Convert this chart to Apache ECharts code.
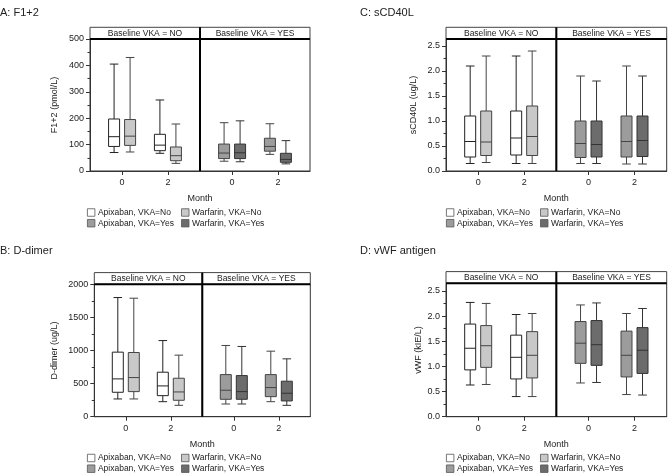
<!DOCTYPE html>
<html><head><meta charset="utf-8">
<script src="https://cdn.jsdelivr.net/npm/echarts@6/dist/echarts.min.js"></script>
<style>html,body{margin:0;padding:0;background:#fff}#c{width:669px;height:473px}</style>
</head><body><div id="c"></div>
<script>
// ---------- DATA ----------
const months = [0, 2];
const monthTicks = [0, 2];
const stripLabels = ['Baseline VKA = NO', 'Baseline VKA = YES'];
const seriesNames = ['Apixaban, VKA=No', 'Warfarin, VKA=No', 'Apixaban, VKA=Yes', 'Warfarin, VKA=Yes'];
// each box: [min, Q1, median, Q3, max], one per month (0, 2)
const f12_apixNo   = [[70, 93, 130, 197, 405], [67, 77, 98, 139, 269]];
const f12_warfNo   = [[72, 97, 132, 195, 430], [29, 39, 58, 91, 178]];
const f12_apixYes  = [[37, 47, 68, 102, 183], [63, 75, 93, 124, 179]];
const f12_warfYes  = [[35, 47, 69, 102, 190], [27, 33, 44, 67, 115]];

const cd40_apixNo  = [[0.15, 0.28, 0.59, 1.1, 2.1], [0.15, 0.32, 0.66, 1.2, 2.3]];
const cd40_warfNo  = [[0.17, 0.31, 0.58, 1.2, 2.3], [0.15, 0.31, 0.69, 1.3, 2.4]];
const cd40_apixYes = [[0.15, 0.27, 0.55, 1.0, 1.9], [0.14, 0.28, 0.59, 1.1, 2.1]];
const cd40_warfYes = [[0.15, 0.28, 0.53, 1.0, 1.8], [0.14, 0.29, 0.61, 1.1, 1.9]];

const dd_apixNo    = [[268, 369, 571, 975, 1800], [227, 318, 465, 672, 1150]];
const dd_warfNo    = [[268, 379, 591, 970, 1790], [172, 248, 374, 581, 930]];
const dd_apixYes   = [[192, 263, 400, 636, 1076], [227, 303, 440, 636, 990]];
const dd_warfYes   = [[192, 263, 379, 621, 1061], [172, 238, 354, 536, 874]];

const vwf_apixNo   = [[0.63, 0.93, 1.36, 1.84, 2.27], [0.40, 0.75, 1.18, 1.62, 2.03]];
const vwf_warfNo   = [[0.64, 0.98, 1.41, 1.81, 2.25], [0.40, 0.77, 1.22, 1.69, 2.05]];
const vwf_apixYes  = [[0.67, 1.06, 1.46, 1.89, 2.22], [0.44, 0.79, 1.22, 1.70, 2.05]];
const vwf_warfYes  = [[0.68, 1.02, 1.43, 1.91, 2.26], [0.43, 0.86, 1.32, 1.77, 2.15]];

const yTicksA = [0, 100, 200, 300, 400, 500];
const yTicksC = [0, 0.5, 1.0, 1.5, 2.0, 2.5];
const yTicksB = [0, 500, 1000, 1500, 2000];
const yTicksD = [0, 0.5, 1.0, 1.5, 2.0, 2.5];

// ---------- STYLE / LAYOUT ----------
const FONT = 'Arial, "Liberation Sans", Helvetica, sans-serif';
const fills = ['#ffffff', '#c8c8c8', '#9c9c9c', '#6c6c6c'];
const strokes = ['#222222', '#444444', '#444444', '#333333'];

const panels = [
  { title: 'A: F1+2', titleX: 0, titleY: 13, yName: 'F1+2 (pmol/L)', nameGap: 31,
    left: 90, right: 310, top: 39, bottom: 171, yMax: 500, yInt: 100, yTicks: yTicksA, fmt: v => String(v),
    data: [[f12_apixNo, f12_warfNo], [f12_apixYes, f12_warfYes]], legendX: 87, legendY: 208, monthY: 199 },
  { title: 'C: sCD40L', titleX: 360, titleY: 13, yName: 'sCD40L (ug/L)', nameGap: 28,
    left: 446, right: 666.7, top: 39, bottom: 171, yMax: 2.64, yInt: 0.5, yTicks: yTicksC, fmt: v => v.toFixed(1),
    data: [[cd40_apixNo, cd40_warfNo], [cd40_apixYes, cd40_warfYes]], legendX: 446, legendY: 208, monthY: 199 },
  { title: 'B: D-dimer', titleX: 0, titleY: 251, yName: 'D-dimer (ug/L)', nameGap: 35,
    left: 94.3, right: 310.3, top: 284.3, bottom: 416.7, yMax: 2000, yInt: 500, yTicks: yTicksB, fmt: v => String(v),
    data: [[dd_apixNo, dd_warfNo], [dd_apixYes, dd_warfYes]], legendX: 87, legendY: 453.5, monthY: 444.3 },
  { title: 'D: vWF antigen', titleX: 360, titleY: 251, yName: 'vWF (kIE/L)', nameGap: 23,
    left: 446, right: 666.7, top: 283.3, bottom: 416.7, yMax: 2.65, yInt: 0.5, yTicks: yTicksD, fmt: v => v.toFixed(1),
    data: [[vwf_apixNo, vwf_warfNo], [vwf_apixYes, vwf_warfYes]], legendX: 446, legendY: 453.5, monthY: 444.3 }
];
const STRIP_H = 11.7;
const BOX_OFF = 8, BOX_HW = 5.5, CAP_HW = 4.3;

const grids = [], xAxes = [], yAxes = [], series = [], graphics = [], legends = [];

function makeRender(offset, fill, stroke) {
  return function (params, api) {
    const x = api.value(0);
    const cx = api.coord([x, 0])[0] + offset;
    const y = i => api.coord([x, api.value(i)])[1];
    const yMin = y(1), yQ1 = y(2), yMed = y(3), yQ3 = y(4), yMax = y(5);
    const ls = { stroke: stroke, lineWidth: 1 };
    return { type: 'group', children: [
      { type: 'line', shape: { x1: cx, y1: yMax, x2: cx, y2: yQ3 }, style: ls },
      { type: 'line', shape: { x1: cx, y1: yQ1, x2: cx, y2: yMin }, style: ls },
      { type: 'line', shape: { x1: cx - CAP_HW, y1: yMax, x2: cx + CAP_HW, y2: yMax }, style: ls },
      { type: 'line', shape: { x1: cx - CAP_HW, y1: yMin, x2: cx + CAP_HW, y2: yMin }, style: ls },
      { type: 'rect', shape: { x: cx - BOX_HW, y: yQ3, width: BOX_HW * 2, height: yQ1 - yQ3 }, style: { fill: fill, stroke: stroke, lineWidth: 1 } },
      { type: 'line', shape: { x1: cx - BOX_HW, y1: yMed, x2: cx + BOX_HW, y2: yMed }, style: ls }
    ] };
  };
}

panels.forEach((p, pi) => {
  const w = (p.right - p.left) / 2;
  const split = p.left + w;
  for (let s = 0; s < 2; s++) {
    const gi = grids.length;
    grids.push({ left: p.left + s * w, top: p.top, width: w, height: p.bottom - p.top,
      show: true, borderColor: '#333', borderWidth: 1, backgroundColor: 'transparent' });
    xAxes.push({ type: 'value', gridIndex: gi, min: -1.4, max: 3.4,
      axisLine: { show: true, onZero: false, lineStyle: { color: '#333' } },
      axisTick: { show: true, customValues: monthTicks, length: 4, lineStyle: { color: '#333' } },
      axisLabel: { show: true, customValues: monthTicks, margin: 7, fontSize: 9, color: '#222', fontFamily: FONT },
      splitLine: { show: false } });
    yAxes.push({ type: 'value', gridIndex: gi, min: 0, max: p.yMax, interval: p.yInt,
      name: s === 0 ? p.yName : '', nameLocation: 'middle', nameGap: p.nameGap,
      nameTextStyle: { fontSize: 9, color: '#222', fontFamily: FONT },
      axisLine: { show: s === 0, onZero: false, lineStyle: { color: '#333' } },
      axisTick: { show: s === 0, customValues: p.yTicks, length: 4, lineStyle: { color: '#333' } },
      minorTick: { show: s === 0, splitNumber: 2, length: 2.5, lineStyle: { color: '#333' } },
      axisLabel: { show: s === 0, customValues: p.yTicks, margin: 6, fontSize: 9, color: '#222', fontFamily: FONT, formatter: p.fmt },
      splitLine: { show: false }, minorSplitLine: { show: false } });
    for (let k = 0; k < 2; k++) {
      const ci = s * 2 + k;
      const boxes = p.data[s][k];
      series.push({ type: 'custom', name: seriesNames[ci], xAxisIndex: gi, yAxisIndex: gi,
        itemStyle: { color: fills[ci], borderColor: strokes[ci] },
        encode: { x: 0, y: [1, 2, 3, 4, 5] }, clip: false,
        renderItem: makeRender(k === 0 ? -BOX_OFF : BOX_OFF, fills[ci], strokes[ci]),
        data: months.map((m, mi) => [m].concat(boxes[mi])) });
    }
    // strip header
    graphics.push({ type: 'rect', z: 100, shape: { x: p.left + s * w, y: p.top - STRIP_H, width: w, height: STRIP_H },
      style: { fill: '#fff', stroke: '#444', lineWidth: 1 } });
    graphics.push({ type: 'text', z: 101, style: { text: stripLabels[s], x: p.left + s * w + w / 2, y: p.top - STRIP_H / 2 + 0.5,
      fill: '#222', font: '8.5px ' + FONT, textAlign: 'center', textVerticalAlign: 'middle', verticalAlign: 'middle' } });
  }
  // thick lines
  graphics.push({ type: 'line', z: 102, shape: { x1: p.left, y1: p.top, x2: p.right, y2: p.top }, style: { stroke: '#000', lineWidth: 2 } });
  graphics.push({ type: 'line', z: 102, shape: { x1: split, y1: p.top - STRIP_H, x2: split, y2: p.bottom }, style: { stroke: '#000', lineWidth: 2 } });
  // title
  graphics.push({ type: 'text', z: 101, style: { text: p.title, x: p.titleX, y: p.titleY, fill: '#222', font: '11px ' + FONT,
    textAlign: 'left', textVerticalAlign: 'middle', verticalAlign: 'middle' } });
  // Month label
  graphics.push({ type: 'text', z: 101, style: { text: 'Month', x: split, y: p.monthY, fill: '#222', font: '9px ' + FONT,
    textAlign: 'center', textVerticalAlign: 'middle', verticalAlign: 'middle' } });
  legends.push({ left: p.legendX, top: p.legendY, width: 200, orient: 'horizontal', padding: 0,
    itemWidth: 7.5, itemHeight: 7.5, itemGap: 1.7, icon: 'rect', selectedMode: false,
    itemStyle: { borderColor: '#555', borderWidth: 0.8 },
    textStyle: { fontSize: 8.5, lineHeight: 8, color: '#222', fontFamily: FONT, width: 81.5, padding: [0, 0, 0, -2] },
    data: seriesNames });
});

const chart = echarts.init(document.getElementById('c'), null, { renderer: 'canvas' });
chart.setOption({
  animation: false,
  backgroundColor: '#fff',
  grid: grids, xAxis: xAxes, yAxis: yAxes, series: series, legend: legends, graphic: graphics
});
</script></body></html>
